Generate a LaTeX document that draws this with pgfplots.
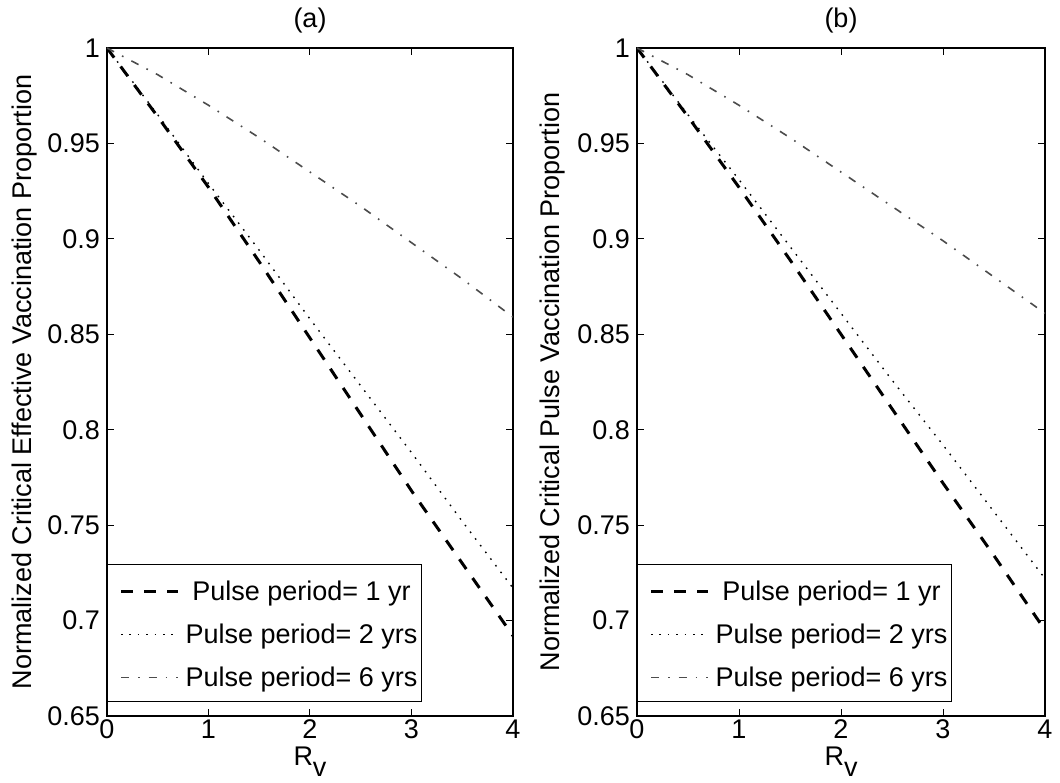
\documentclass[border=0pt]{standalone}
\usepackage{pgfplots}
\pgfplotsset{compat=1.18}
\usepackage{fontspec}
\setmainfont{Liberation Sans}
\newcommand{\fs}{\fontsize{13.5}{16}\selectfont}
\pgfplotsset{
 panel/.style={
  scale only axis, height=334pt,
  xmin=0,xmax=4,ymin=0.65,ymax=1,
  xtick={0,1,2,3,4}, xticklabels={0,1,2,3,4},
  ytick={0.65,0.7,0.75,0.8,0.85,0.9,0.95,1},
  yticklabels={0.65,0.7,0.75,0.8,0.85,0.9,0.95,1},
  tick align=inside, major tick length=3.5pt,
  tick style={black, line width=0.5pt},
  axis line style={line width=0.6pt},
  tick label style={font=\fs},
  xticklabel style={yshift=1.5pt},
  /pgf/number format/assume math mode=true,
  label style={font=\fs},
  title style={font=\fs, at={(axis description cs:0.5,1)}, anchor=base, yshift=4pt},
  xlabel={R\raisebox{-5.5pt}{v}},
  xlabel style={at={(axis description cs:0.5,0)}, anchor=base, yshift=-24.5pt},
  legend style={at={(axis description cs:0,0.021)}, anchor=south west, draw=black,
    line width=0.5pt, fill=white, inner xsep=2pt, inner ysep=6pt, row sep=8pt,
    column sep=3pt, font=\fs,
    nodes={inner sep=0pt, text height=12pt, text depth=1.5pt, anchor=base}},
  legend cell align=left,
  legend image code/.code={\path (0pt,0pt) (0pt,9pt); \draw[##1] (4pt,4.5pt) -- (32.5pt,4.5pt);},
 },
 s1/.style={black, line width=1.5pt, dash pattern=on 6pt off 5.5pt},
 s2/.style={black, line width=0.7pt, dash pattern=on 0.8pt off 3.4pt},
 s3/.style={black!70, line width=0.8pt, dash pattern=on 4pt off 4.5pt on 0.8pt off 4.5pt},
}
\begin{document}
\begin{tikzpicture}
\useasboundingbox (0,0) rectangle (530pt,391pt);
\begin{axis}[panel, at={(53.5pt,33pt)}, anchor=south west, width=203pt,
  title={(a)},
  ylabel={Normalized Critical Effective Vaccination Proportion},
  ylabel style={at={(axis description cs:-0.204,0.5)}, anchor=center}]
\addplot[s1] coordinates {(0,1)(0.5,0.964)(1,0.927)(1.5,0.888)(2,0.848)(2.5,0.808)(3,0.768)(3.5,0.730)(4,0.692)};
\addlegendentry{Pulse period= 1 yr}
\addplot[s2] coordinates {(0,1)(0.5,0.965)(1,0.929)(1.5,0.894)(2,0.858)(2.5,0.823)(3,0.788)(3.5,0.752)(4,0.717)};
\addlegendentry{Pulse period= 2 yrs}
\addplot[s3] coordinates {(0,1)(0.5,0.986)(1,0.970)(1.5,0.953)(2,0.935)(2.5,0.917)(3,0.898)(3.5,0.879)(4,0.859)};
\addlegendentry{Pulse period= 6 yrs}
\end{axis}
\begin{axis}[panel, at={(318.5pt,33pt)}, anchor=south west, width=204pt,
  title={(b)},
  ylabel={Normalized Critical Pulse Vaccination Proportion},
  ylabel style={at={(axis description cs:-0.206,0.5)}, anchor=center}]
\addplot[s1] coordinates {(0,1)(0.5,0.964)(1,0.927)(1.5,0.889)(2,0.850)(2.5,0.811)(3,0.772)(3.5,0.734)(4,0.695)};
\addlegendentry{Pulse period= 1 yr}
\addplot[s2] coordinates {(0,1)(0.5,0.965)(1,0.931)(1.5,0.896)(2,0.861)(2.5,0.826)(3,0.792)(3.5,0.757)(4,0.722)};
\addlegendentry{Pulse period= 2 yrs}
\addplot[s3] coordinates {(0,1)(0.5,0.986)(1,0.970)(1.5,0.953)(2,0.935)(2.5,0.917)(3,0.899)(3.5,0.880)(4,0.861)};
\addlegendentry{Pulse period= 6 yrs}
\end{axis}
\end{tikzpicture}
\end{document}
